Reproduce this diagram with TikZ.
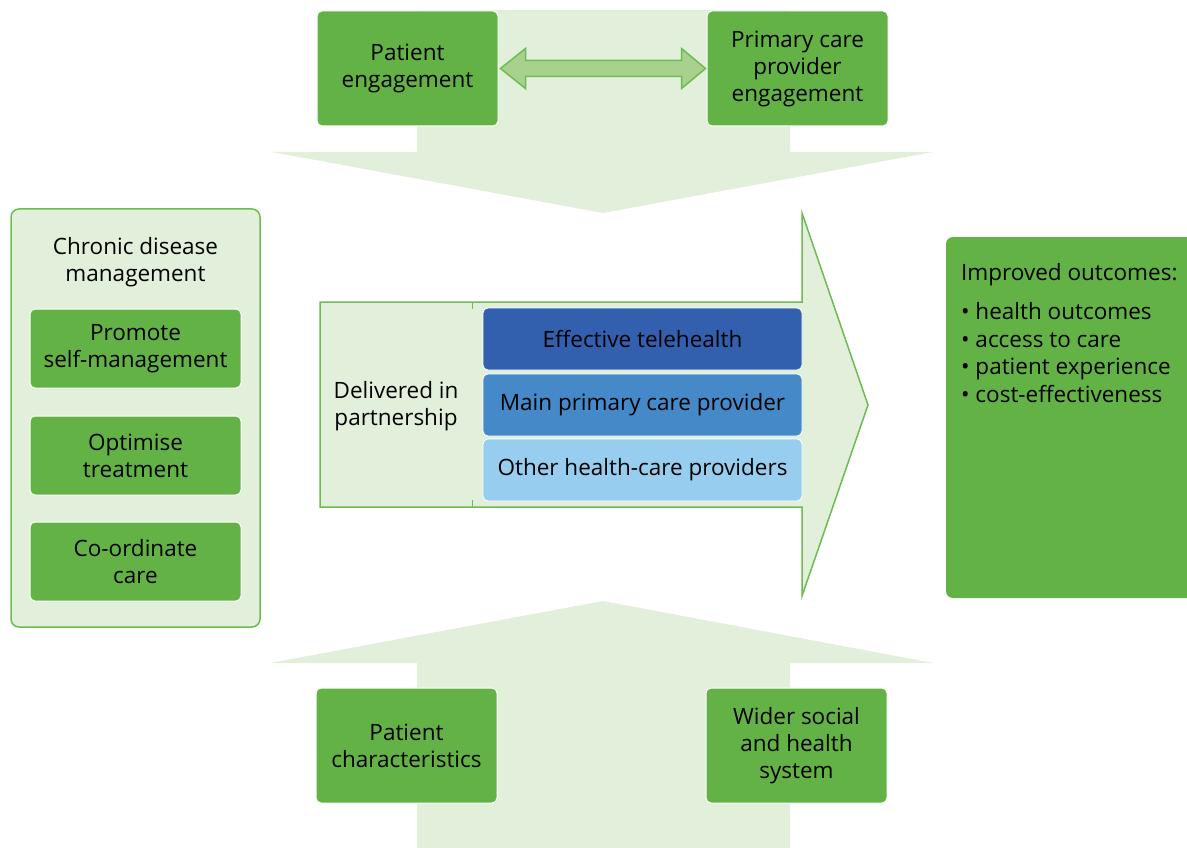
\documentclass[tikz,border=0pt]{standalone}
\usepackage{fontspec}
\setmainfont{Open Sans}
\usetikzlibrary{positioning,calc}
\definecolor{leaf}{HTML}{63B246}
\definecolor{pale}{HTML}{E2EFDA}
\definecolor{rim}{HTML}{6DBB52}
\definecolor{mint}{HTML}{A9D18E}
\definecolor{navy}{HTML}{3360AE}
\definecolor{steel}{HTML}{4589C8}
\definecolor{sky}{HTML}{97CDEE}
\tikzset{
  txt/.style={font=\fontsize{22.5}{27}\selectfont, align=center},
  greenbox/.style={txt, fill=leaf, draw=white, line width=1pt, rounded corners=5pt,
    minimum width=181pt, minimum height=115pt},
  stepbox/.style={txt, fill=leaf, draw=white, line width=1pt, rounded corners=5pt,
    minimum width=211pt, minimum height=79pt},
  bluebox/.style={txt, draw=white, line width=0.8pt, rounded corners=5pt,
    minimum width=319pt, minimum height=62pt},
}
\begin{document}
\begin{tikzpicture}[x=1pt,y=-1pt]
\useasboundingbox (0,0) rectangle (1187,848);

\fill[pale] (417,10) -- (790,10) -- (790,152) -- (933,152) -- (603,213)
  -- (272,152) -- (417,152) -- cycle;
\fill[pale] (417,848) -- (417,663) -- (270,663) -- (603,601) -- (933,663)
  -- (790,663) -- (790,848) -- cycle;
\draw[rim, fill=pale, line width=1.5pt] (320,302) -- (802,302) -- (802,213)
  -- (868,405) -- (802,596) -- (802,507) -- (320,507) -- cycle;
\draw[rim, line width=1pt] (472,302) -- (472,309) (472,500) -- (472,507);

\node[greenbox] (pe) at (407.5,68.5) {Patient\\engagement};
\node[greenbox] (pc) at (797.5,68.5) {Primary care\\provider\\engagement};
\node[greenbox] (pch) at (406.5,745.5) {Patient\\characteristics};
\node[greenbox] (ws) at (796.5,745.5) {Wider social\\and health\\system};

\draw[rim, fill=mint, line width=1.5pt] ($(pe.east)+(2,0)$) -- ++(25,-20) -- ++(0,12)
  -- ($(pc.west)+(-25,-8)$) -- ++(0,-12) -- ($(pc.west)+(-1,0)$)
  -- ++(-24,20) -- ++(0,-12) -- ($(pe.east)+(27,8)$) -- ++(0,12) -- cycle;

\draw[rim, fill=pale, line width=1.5pt, rounded corners=8pt] (11,209) rectangle (260,627);
\node[txt] (cdm) at (135.5,262) {Chronic disease\\management};
\node[stepbox] (ps) at (135.5,348.5) {Promote\\self-management};
\node[stepbox] (ot) at (135.5,455.5) {Optimise\\treatment};
\node[stepbox] (cc) at (135.5,561.5) {Co-ordinate\\care};

\node[txt] (dp) at (396,406) {Delivered in\\partnership};
\node[bluebox, fill=navy] (et) at (642.5,339) {Effective telehealth};
\node[bluebox, fill=steel] (mp) at (642.5,405) {Main primary care provider};
\node[bluebox, fill=sky] (oh) at (642.5,470) {Other health-care providers};

\fill[leaf, rounded corners=7pt] (946,237) rectangle (1200,598);
\node[font=\fontsize{22.5}{27.5}\selectfont, align=left, anchor=north west, inner sep=0pt]
  (io) at (961,263)
  {Improved outcomes:\\[12pt]
   \textbullet\ health outcomes\\
   \textbullet\ access to care\\
   \textbullet\ patient experience\\
   \textbullet\ cost-effectiveness};
\end{tikzpicture}
\end{document}
